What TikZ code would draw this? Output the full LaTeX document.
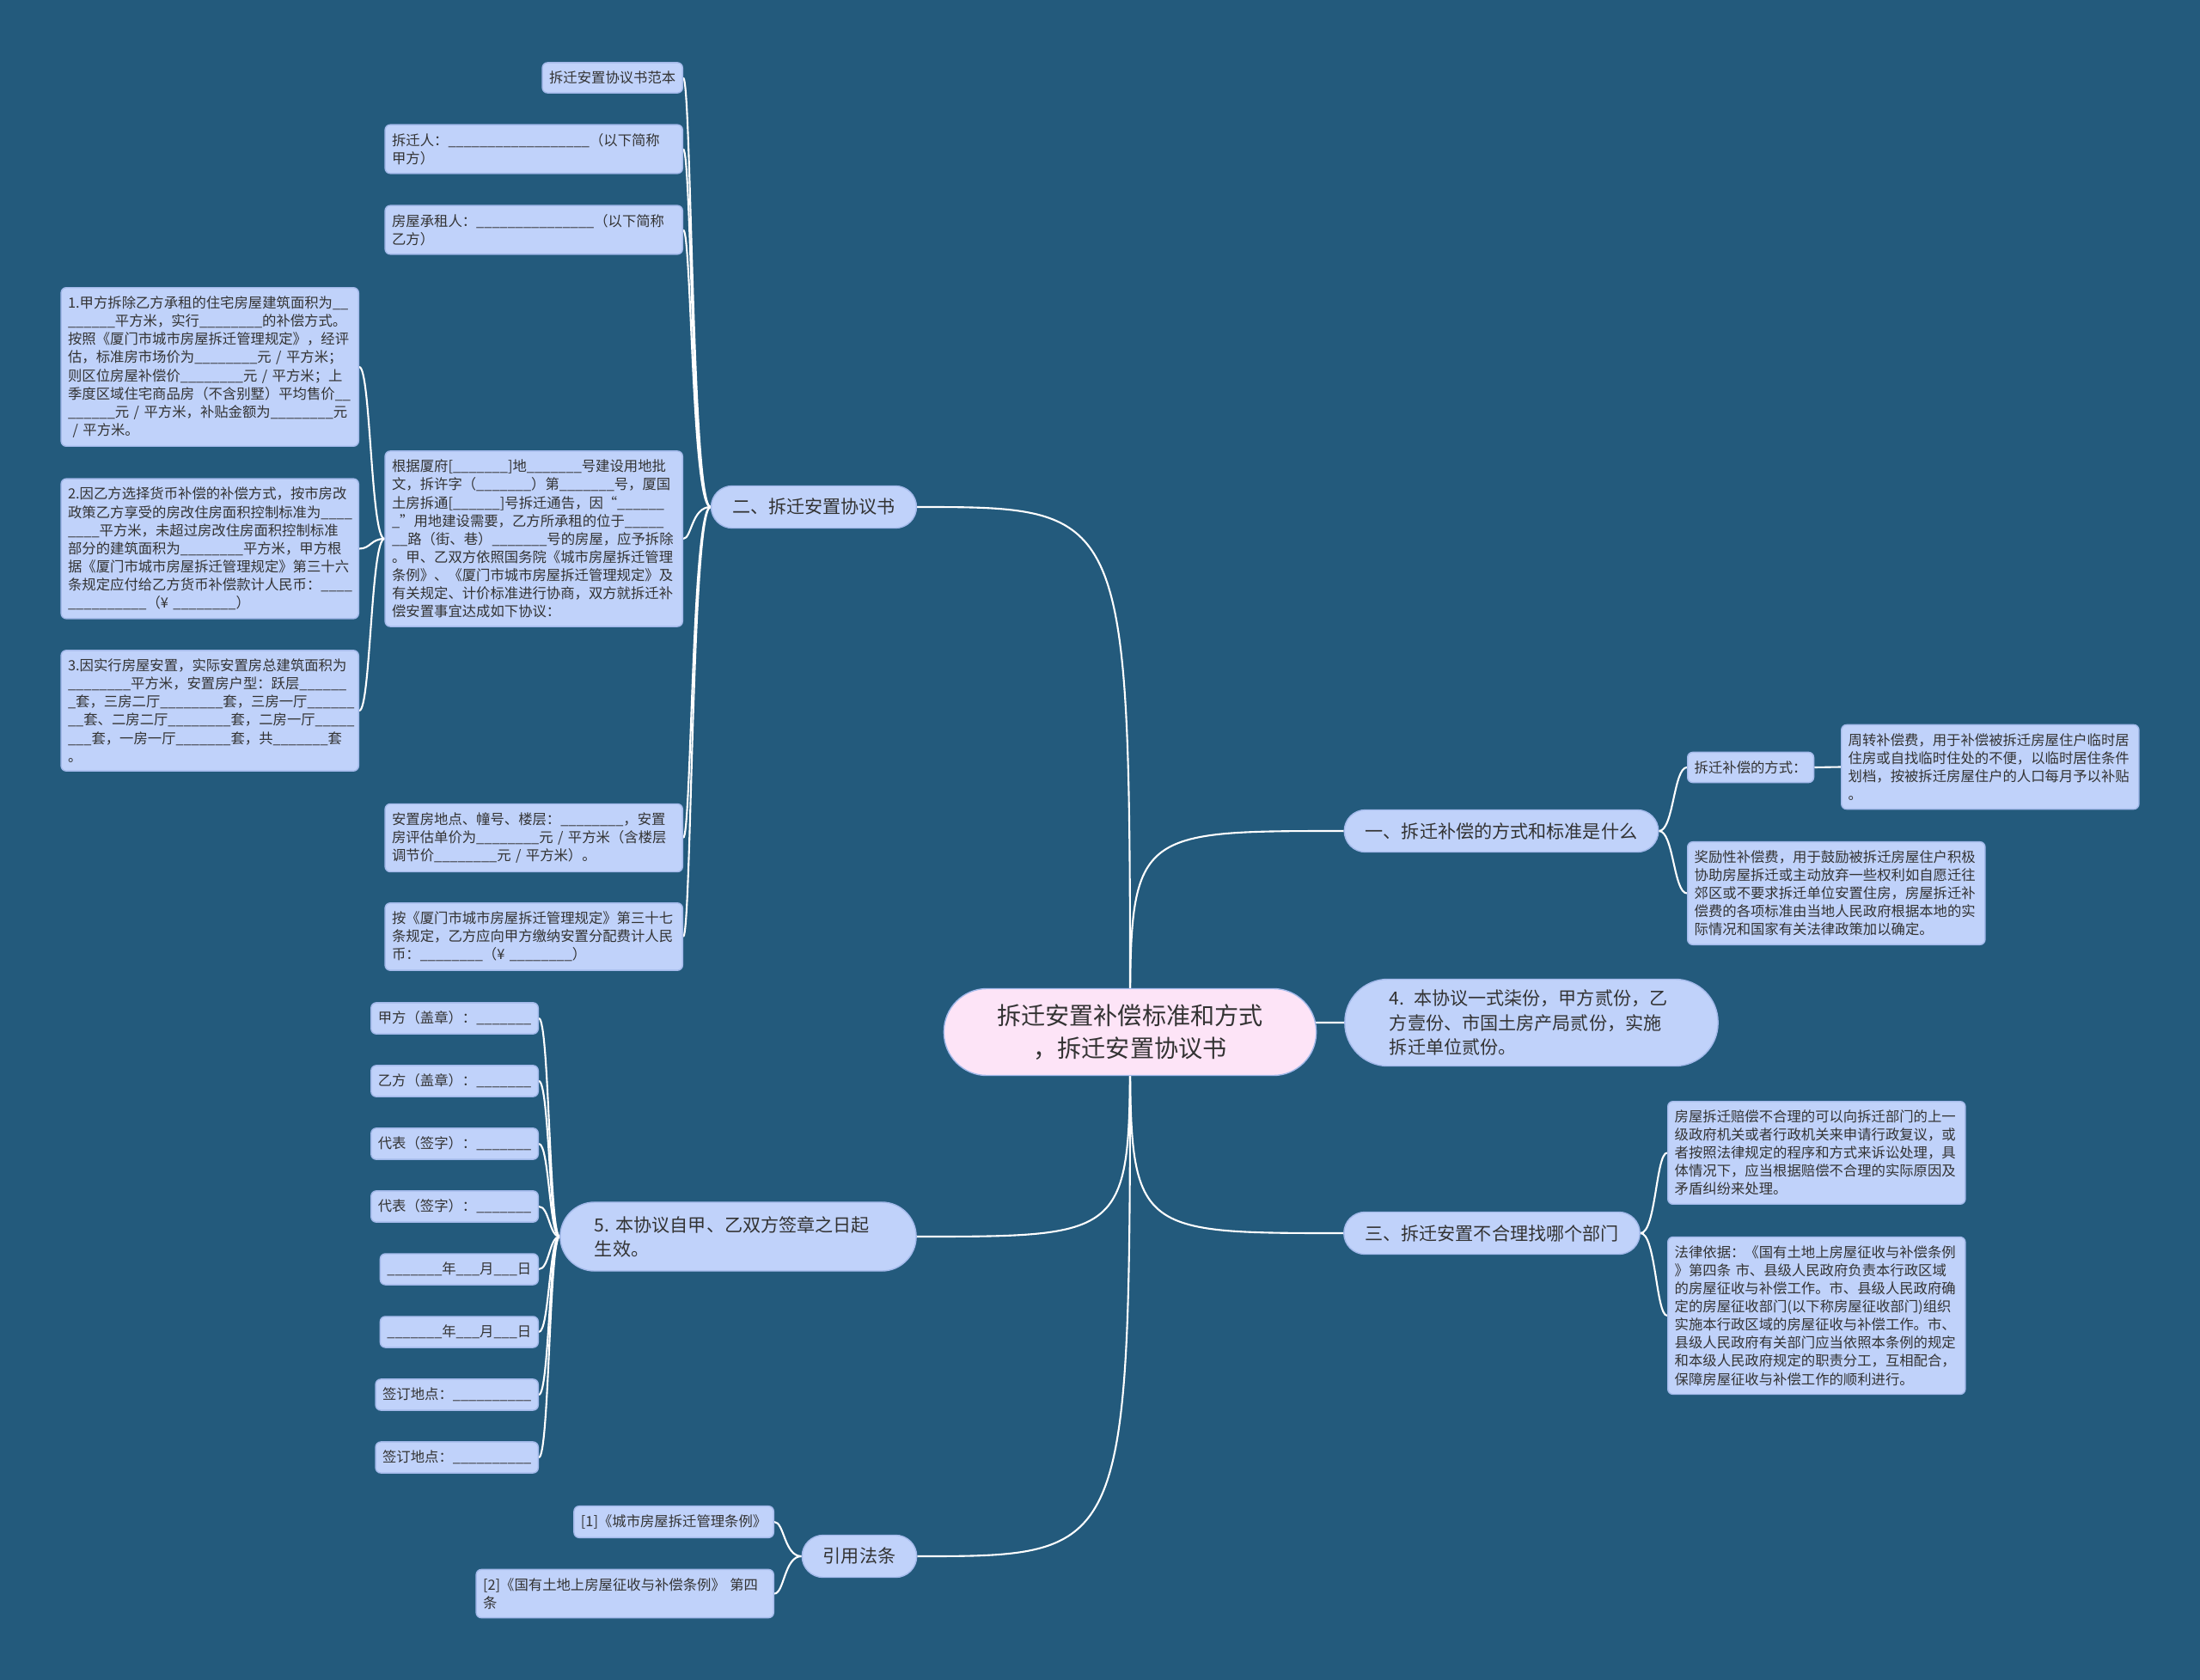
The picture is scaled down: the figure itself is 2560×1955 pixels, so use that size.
\documentclass[tikz,border=0pt]{standalone}
\usepackage{fontspec}
\setmainfont{Noto Sans CJK SC}
\usetikzlibrary{calc}

\definecolor{fond}{HTML}{235A7C}
\definecolor{bleu}{HTML}{C0D2FA}
\definecolor{bord}{HTML}{A3B9EA}
\definecolor{rose}{HTML}{FDE4F7}
\definecolor{texte}{HTML}{333333}

\pgfdeclarelayer{arriere}
\pgfdeclarelayer{liens}
\pgfsetlayers{arriere,liens,main}

\begin{document}
\catcode`\_=12
\begin{tikzpicture}[x=0.01cm, y=-0.01cm,
    racine/.style={fill=rose, draw=bord, line width=0.4pt, rounded corners=0.5cm,
        minimum width=4.33cm, minimum height=1.01cm, align=center, text=texte,
        font=\fontsize{8pt}{10.6pt}\selectfont},
    branche/.style={fill=bleu, draw=bord, line width=0.4pt, rounded corners=0.245cm,
        minimum height=0.49cm, inner xsep=0.245cm, text=texte,
        font=\fontsize{6pt}{8pt}\selectfont},
    feuille/.style={fill=bleu, draw=bord, line width=0.4pt, rounded corners=0.06cm,
        inner xsep=0.08cm, inner ysep=0.1cm, align=left, text=texte,
        font=\fontsize{4.65pt}{6pt}\selectfont},
    large/.style={text width=3.3cm},
    lien/.style={draw=white, line width=0.6pt}]

    % Fond
    \begin{pgfonlayer}{arriere}
        \fill[fond] (0,0) rectangle (2560,1955);
    \end{pgfonlayer}

    % Racine et branches
    \node[racine] (racine) at (1315,1201) {拆迁安置补偿标准和方式\\，拆迁安置协议书};
    \node[branche] (b2) at (947,590) {二、拆迁安置协议书};
    \node[branche] (b1) at (1747,967) {一、拆迁补偿的方式和标准是什么};
    \node[branche, rounded corners=0.5cm, minimum height=1.01cm, inner xsep=0.52cm,
        text width=3.3cm, align=left] (b4) at (1782,1190)
        {4. 本协议一式柒份，甲方贰份，乙\\方壹份、市国土房产局贰份，实施\\拆迁单位贰份。};
    \node[branche] (b3) at (1736,1435) {三、拆迁安置不合理找哪个部门};
    \node[branche, rounded corners=0.4cm, minimum height=0.8cm, inner xsep=0.4cm,
        text width=3.34cm, align=left] (b5) at (859,1439)
        {5.~本协议自甲、乙双方签章之日起\\生效。};
    \node[branche] (b6) at (1000,1811) {引用法条};

    % Feuilles de la branche « 二 »
    \node[feuille, anchor=east] (a1) at (795,90.5) {拆迁安置协议书范本};
    \node[feuille, large, anchor=east] (a2) at (795,173.5)
        {拆迁人：__________________（以下简称\\甲方）};
    \node[feuille, large, anchor=east] (a3) at (795,267.5)
        {房屋承租人：_______________（以下简称\\乙方）};
    \node[feuille, large, anchor=east] (a4) at (795,627)
        {根据厦府[_______]地_______号建设用地批\\
         文，拆许字（_______）第_______号，厦国\\
         土房拆通[______]号拆迁通告，因“______\\
         _”用地建设需要，乙方所承租的位于_____\\
         __路（街、巷）_______号的房屋，应予拆除\\
         。甲、乙双方依照国务院《城市房屋拆迁管理\\
         条例》、《厦门市城市房屋拆迁管理规定》及\\
         有关规定、计价标准进行协商，双方就拆迁补\\
         偿安置事宜达成如下协议：};
    \node[feuille, large, anchor=east] (a5) at (795,975)
        {安置房地点、幢号、楼层：________，安置\\
         房评估单价为________元 / 平方米（含楼层\\
         调节价________元 / 平方米）。};
    \node[feuille, large, anchor=east] (a6) at (795,1090)
        {按《厦门市城市房屋拆迁管理规定》第三十七\\
         条规定，乙方应向甲方缴纳安置分配费计人民\\
         币：________（¥ ________）};

    % Détails de l'accord
    \node[feuille, large, anchor=east] (a41) at (418,427)
        {1.甲方拆除乙方承租的住宅房屋建筑面积为__\\
         ______平方米，实行________的补偿方式。\\
         按照《厦门市城市房屋拆迁管理规定》，经评\\
         估，标准房市场价为________元 / 平方米；\\
         则区位房屋补偿价________元 / 平方米；上\\
         季度区域住宅商品房（不含别墅）平均售价__\\
         ______元 / 平方米，补贴金额为________元\\
         ~/ 平方米。};
    \node[feuille, large, anchor=east] (a42) at (418,638.5)
        {2.因乙方选择货币补偿的补偿方式，按市房改\\
         政策乙方享受的房改住房面积控制标准为____\\
         ____平方米，未超过房改住房面积控制标准\\
         部分的建筑面积为________平方米，甲方根\\
         据《厦门市城市房屋拆迁管理规定》第三十六\\
         条规定应付给乙方货币补偿款计人民币：____\\
         __________（¥ ________）};
    \node[feuille, large, anchor=east] (a43) at (418,827)
        {3.因实行房屋安置，实际安置房总建筑面积为\\
         ________平方米，安置房户型：跃层______\\
         _套，三房二厅________套，三房一厅______\\
         __套、二房二厅________套，二房一厅_____\\
         ___套，一房一厅_______套，共_______套\\
         。};

    % Feuilles de la branche « 一 »
    \node[feuille, anchor=west] (c1) at (1963,893) {拆迁补偿的方式：};
    \node[feuille, large, anchor=west] (c11) at (2142,892.5)
        {周转补偿费，用于补偿被拆迁房屋住户临时居\\
         住房或自找临时住处的不便，以临时居住条件\\
         划档，按被拆迁房屋住户的人口每月予以补贴\\
         。};
    \node[feuille, large, anchor=west] (c2) at (1963,1039.5)
        {奖励性补偿费，用于鼓励被拆迁房屋住户积极\\
         协助房屋拆迁或主动放弃一些权利如自愿迁往\\
         郊区或不要求拆迁单位安置住房，房屋拆迁补\\
         偿费的各项标准由当地人民政府根据本地的实\\
         际情况和国家有关法律政策加以确定。};

    % Feuilles de la branche « 三 »
    \node[feuille, large, anchor=west] (d1) at (1940,1341.5)
        {房屋拆迁赔偿不合理的可以向拆迁部门的上一\\
         级政府机关或者行政机关来申请行政复议，或\\
         者按照法律规定的程序和方式来诉讼处理，具\\
         体情况下，应当根据赔偿不合理的实际原因及\\
         矛盾纠纷来处理。};
    \node[feuille, large, anchor=west] (d2) at (1940,1531)
        {法律依据：《国有土地上房屋征收与补偿条例\\
         》第四条 市、县级人民政府负责本行政区域\\
         的房屋征收与补偿工作。市、县级人民政府确\\
         定的房屋征收部门(以下称房屋征收部门)组织\\
         实施本行政区域的房屋征收与补偿工作。市、\\
         县级人民政府有关部门应当依照本条例的规定\\
         和本级人民政府规定的职责分工，互相配合，\\
         保障房屋征收与补偿工作的顺利进行。};

    % Signatures
    \foreach \t [count=\i] in {甲方（盖章）：_______, 乙方（盖章）：_______,
        代表（签字）：_______, 代表（签字）：_______,
        _______年___月___日, _______年___月___日,
        签订地点：__________, 签订地点：__________} {
        \node[feuille, anchor=east] (e\i) at (627,{1185+73*(\i-1)}) {\t};
    }

    % Références
    \node[feuille, anchor=east] (g1) at (901,1771) {[1]《城市房屋拆迁管理条例》};
    \node[feuille, large, anchor=east] (g2) at (901,1854.5)
        {[2]《国有土地上房屋征收与补偿条例》 第四\\条};

    % Liens
    \coordinate (h2) at ($(b2.west)+(-22,0)$);
    \coordinate (h24) at ($(a4.west)+(-16,0)$);
    \coordinate (h1) at ($(b1.east)+(17,0)$);
    \coordinate (h3) at ($(b3.east)+(18,0)$);
    \coordinate (h5) at ($(b5.west)+(-12,0)$);
    \coordinate (h6) at ($(b6.west)+(-20,0)$);
    \begin{pgfonlayer}{liens}
        \foreach \b in {b2,b5,b6}
            \draw[lien] (racine.center) .. controls (racine.center |- \b.east) .. (\b.east);
        \foreach \b in {b1,b4,b3}
            \draw[lien] (racine.center) .. controls (racine.center |- \b.west) .. (\b.west);
        \foreach \f in {a1,a2,a3,a4,a5,a6}
            \draw[lien] (b2.west) .. controls (h2) and (h2 |- \f.east) .. (\f.east);
        \foreach \f in {a41,a42,a43}
            \draw[lien] (a4.west) .. controls (h24) and (h24 |- \f.east) .. (\f.east);
        \foreach \f in {c1,c2}
            \draw[lien] (b1.east) .. controls (h1) and (h1 |- \f.west) .. (\f.west);
        \draw[lien] (c1.east) -- (c11.west);
        \foreach \f in {d1,d2}
            \draw[lien] (b3.east) .. controls (h3) and (h3 |- \f.west) .. (\f.west);
        \foreach \f in {e1,e2,e3,e4,e5,e6,e7,e8}
            \draw[lien] (b5.west) .. controls (h5) and (h5 |- \f.east) .. (\f.east);
        \foreach \f in {g1,g2}
            \draw[lien] (b6.west) .. controls (h6) and (h6 |- \f.east) .. (\f.east);
    \end{pgfonlayer}

\end{tikzpicture}
\end{document}
